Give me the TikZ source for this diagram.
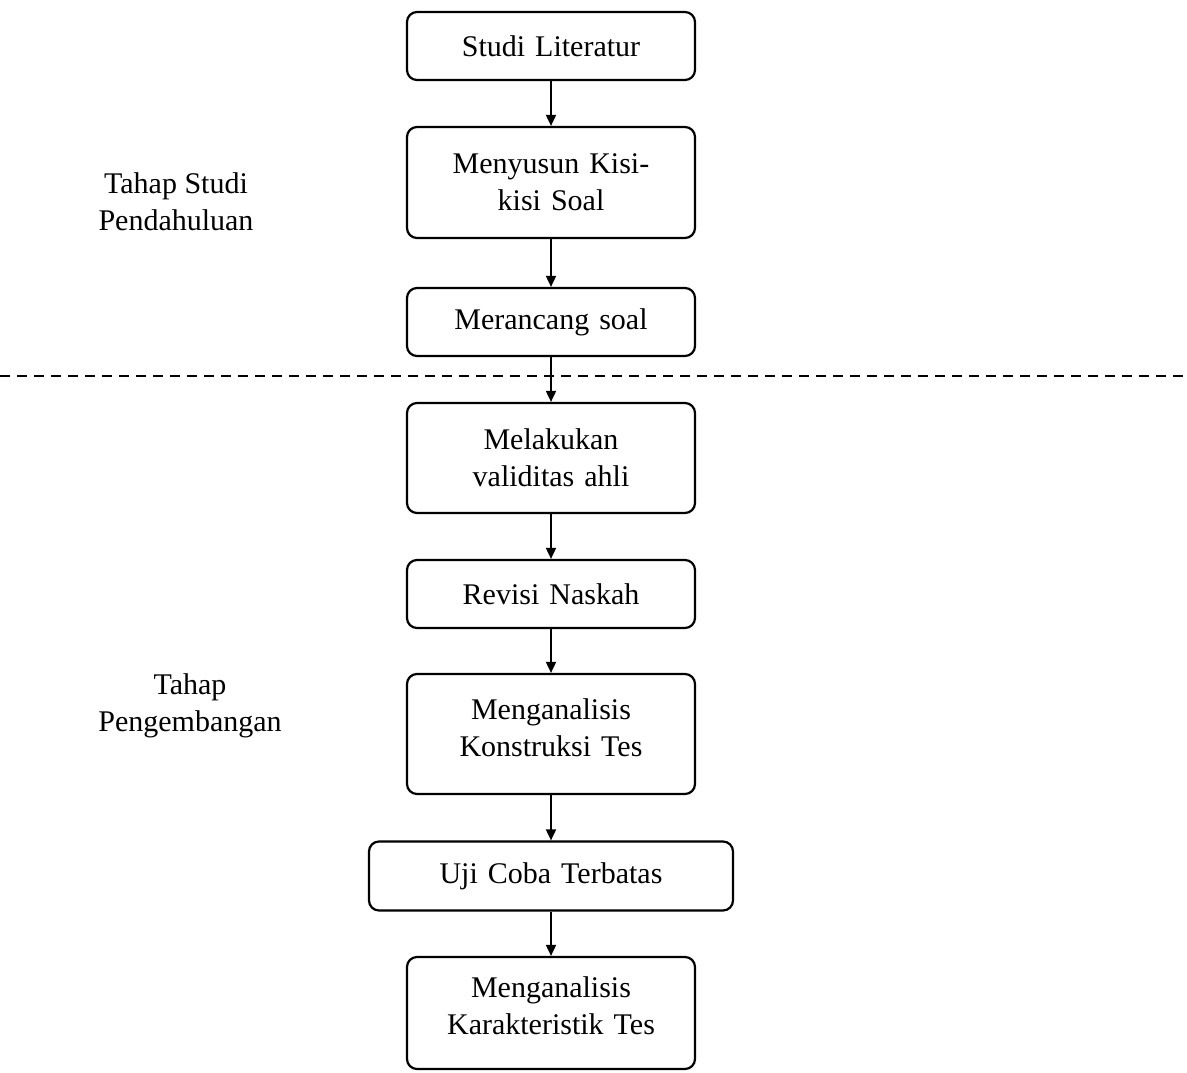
\documentclass[tikz,border=0pt]{standalone}
\usepackage{fontspec}
\setmainfont{Liberation Serif}
\usetikzlibrary{arrows.meta}
\begin{document}
\begin{tikzpicture}[x=1pt,y=-1pt,
  stepbox/.style={draw=black,line width=2.2pt,rounded corners=10pt,inner sep=0pt,
    align=center,font=\fontsize{30}{37}\selectfont,text width=270pt},
  lbl/.style={align=center,font=\fontsize{30}{37}\selectfont,inner sep=0pt},
  arr/.style={line width=1.8pt,-{Triangle[length=11pt,width=10pt]}}]
\useasboundingbox (0,0) rectangle (1187,1072);
\node[stepbox,minimum width=288pt,minimum height=68pt] (b1) at (551,46) {Studi Literatur};
\node[stepbox,minimum width=288pt,minimum height=111pt] (b2) at (551,182.5) {Menyusun Kisi-\\kisi Soal};
\node[stepbox,minimum width=288pt,minimum height=68pt] (b3) at (551,322) {Merancang soal};
\node[stepbox,minimum width=288pt,minimum height=110pt] (b4) at (551,458) {Melakukan\\validitas ahli};
\node[stepbox,minimum width=288pt,minimum height=68pt] (b5) at (551,594) {Revisi Naskah};
\node[stepbox,minimum width=288pt,minimum height=120pt] (b6) at (551,734) {Menganalisis\\Konstruksi Tes\\[-24pt]\mbox{}};
\node[stepbox,minimum width=364pt,minimum height=69pt,text width=340pt] (b7) at (551,876) {Uji Coba Terbatas};
\node[stepbox,minimum width=288pt,minimum height=112pt] (b8) at (551,1013) {Menganalisis\\Karakteristik Tes\\[-23pt]\mbox{}};
\foreach \a/\b in {b1/b2,b2/b3,b3/b4,b4/b5,b5/b6,b6/b7,b7/b8}
  \draw[arr] (\a.south) -- (\b.north);
\coordinate (dl) at (0,376);
\coordinate (dr) at (1187,376);
\draw[line width=1.3pt,dash pattern=on 10pt off 7pt] (dl) -- (dr);
\node[lbl] (t1) at (176,202) {Tahap Studi\\Pendahuluan};
\node[lbl] (t2) at (190,706) {Tahap\\Pengembangan};
\end{tikzpicture}
\end{document}
